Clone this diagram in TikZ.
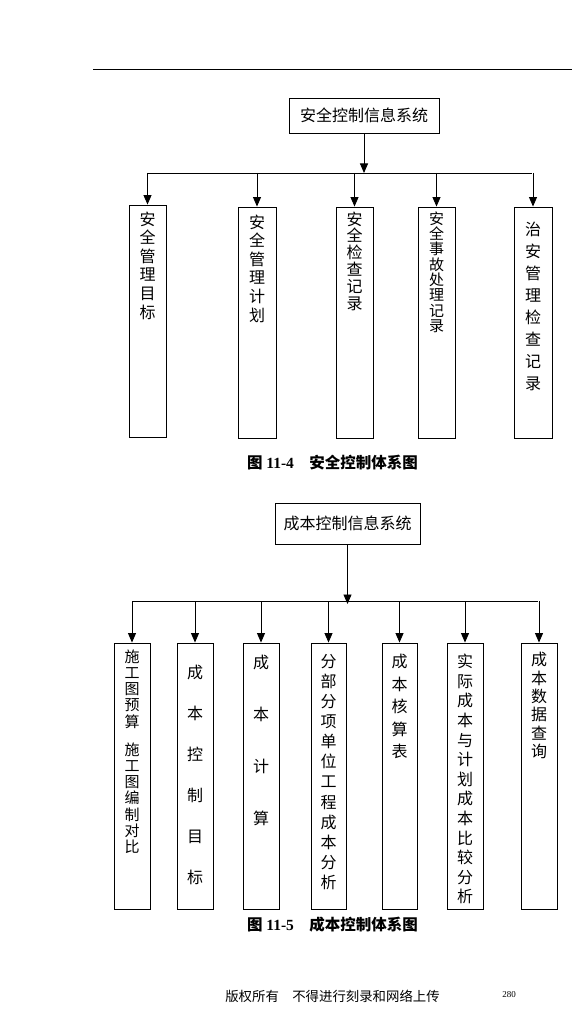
\documentclass[tikz,border=0pt]{standalone}
\usepackage{fontspec}
\setmainfont{Liberation Serif}
\newfontfamily\cjk{Noto Sans CJK SC}
\usetikzlibrary{arrows.meta}
\tikzset{
  ln/.style={line width=0.9pt, black},
  arr/.style={ln, -{Triangle[width=8pt,length=9.5pt]}},
  topbox/.style={draw, ln, inner sep=0pt, font=\cjk\fontsize{16}{18}\selectfont},
  vbox/.style={draw, ln, inner sep=0pt, minimum width=#1pt},
  vbox/.default=37,
  vtxt/.style={inner sep=0pt, anchor=north, align=center},
  captxt/.style={inner sep=0pt, font=\fontsize{15.5}{18}\selectfont\bfseries},
}
\newcommand{\vfont}[2]{\cjk\fontsize{#1}{#2}\selectfont}
\begin{document}
\begin{tikzpicture}[x=1pt,y=-1pt]
\useasboundingbox (0,0) rectangle (572,1011);
% top rule
\coordinate (ruleL) at (93,69);
\coordinate (ruleR) at (572,69);
\draw[ln] (ruleL) -- (ruleR);

% ===== Diagram 1 =====
\node[topbox, minimum width=150pt, minimum height=35pt] (s1) at (364,115.5) {\raisebox{-1.5pt}{安全控制信息系统}};
\coordinate (h1L) at (148,173);
\coordinate (h1R) at (532,173);
\draw[ln] (h1L) -- (h1R);
\draw[arr] (s1.south) -- (s1.south |- h1L);

\node[vbox=37, minimum height=232pt] (a1) at (147.5,321) {};
\node[vbox=38, minimum height=231pt] (a2) at (257,322.5) {};
\node[vbox=37, minimum height=231pt] (a3) at (354.5,322.5) {};
\node[vbox=37, minimum height=231pt] (a4) at (436.5,322.5) {};
\node[vbox=38, minimum height=231pt] (a5) at (533,322.5) {};

\foreach \b in {a1,a2,a3,a4,a5}{
  \draw[arr] (\b.north |- h1L) -- (\b.north);
}

\node[vtxt, font=\vfont{16}{18.6}] (ta1) at (147.5,211.5) {安\\全\\管\\理\\目\\标};
\node[vtxt, font=\vfont{16}{18.6}] (ta2) at (257,214.5) {安\\全\\管\\理\\计\\划};
\node[vtxt, font=\vfont{16}{16.8}] (ta3) at (354.5,211.5) {安\\全\\检\\查\\记\\录};
\node[vtxt, font=\vfont{15}{15.3}] (ta4) at (436.5,211.5) {安\\全\\事\\故\\处\\理\\记\\录};
\node[vtxt, font=\vfont{16}{22}] (ta5) at (533,222) {治\\安\\管\\理\\检\\查\\记\\录};

\node[captxt] (c1) at (332.5,463) {{\cjk\bfseries 图} 11-4\hspace{1em}{\cjk\bfseries 安全控制体系图}};

% ===== Diagram 2 =====
\node[topbox, minimum width=145pt, minimum height=41pt] (s2) at (347.5,523.5) {成本控制信息系统};
\coordinate (h2L) at (132,601);
\coordinate (h2R) at (538,601);
\draw[ln] (h2L) -- (h2R);
\draw[arr] (s2.south) -- ([yshift=-3pt]s2.south |- h2L);

\node[vbox=36, minimum height=266pt] (b1) at (132,776) {};
\node[vbox=36, minimum height=266pt] (b2) at (195,776) {};
\node[vbox=36, minimum height=266pt] (b3) at (261,776) {};
\node[vbox=35, minimum height=266pt] (b4) at (328.5,776) {};
\node[vbox=35, minimum height=266pt] (b5) at (399.5,776) {};
\node[vbox=36, minimum height=266pt] (b6) at (465,776) {};
\node[vbox=36, minimum height=266pt] (b7) at (539,776) {};

\foreach \b in {b1,b2,b3,b4,b5,b6,b7}{
  \draw[arr] (\b.north |- h2L) -- (\b.north);
}

\node[vtxt, font=\vfont{15}{16.2}] (tb1) at (132,649.5) {施\\工\\图\\预\\算\\[12pt]施\\工\\图\\编\\制\\对\\比};
\node[vtxt, font=\vfont{16}{41}] (tb2) at (195,665) {成\\本\\控\\制\\目\\标};
\node[vtxt, font=\vfont{16}{52}] (tb3) at (261,655) {成\\本\\计\\算};
\node[vtxt, font=\vfont{16}{20.1}] (tb4) at (328.5,654) {分\\部\\分\\项\\单\\位\\工\\程\\成\\本\\分\\析};
\node[vtxt, font=\vfont{16}{22.5}] (tb5) at (399.5,654) {成\\本\\核\\算\\表};
\begin{scope}
  \clip (b6.north west) rectangle (b6.south east);
  \node[vtxt, font=\vfont{16}{19.6}] (tb6) at (465,654) {实\\际\\成\\本\\与\\计\\划\\成\\本\\比\\较\\分\\析};
\end{scope}
\node[vtxt, font=\vfont{16}{18.4}] (tb7) at (539,652) {成\\本\\数\\据\\查\\询};

\node[captxt] (c2) at (332.5,925) {{\cjk\bfseries 图} 11-5\hspace{1em}{\cjk\bfseries 成本控制体系图}};

% footer
\node[inner sep=0pt, font=\cjk\fontsize{13.4}{16}\selectfont] (ft) at (332.5,996) {版权所有\hspace{1em}不得进行刻录和网络上传};
\node[inner sep=0pt, font=\fontsize{9}{10}\selectfont] (pg) at (509,995) {280};
\end{tikzpicture}
\end{document}
